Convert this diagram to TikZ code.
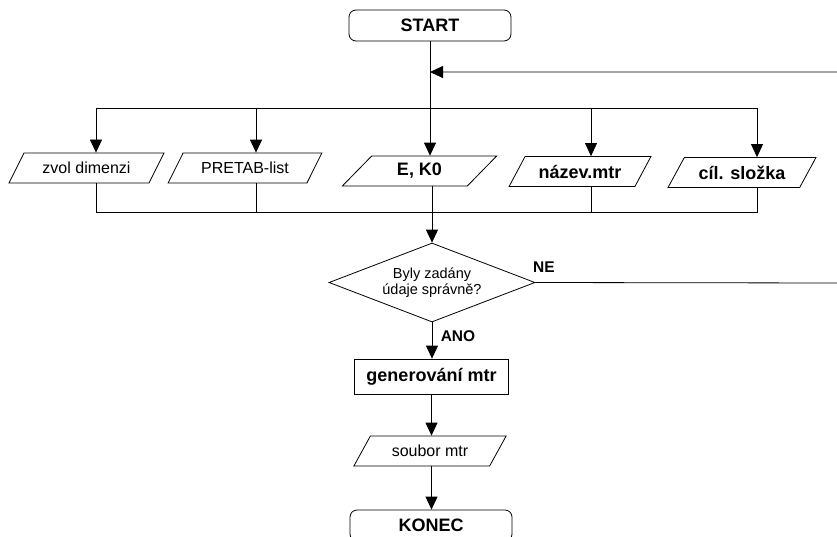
\documentclass[tikz,border=0pt]{standalone}
\usepackage{fontspec}
\setmainfont{Liberation Sans}
\usetikzlibrary{shapes.geometric,arrows.meta}
\begin{document}
\begin{tikzpicture}[x=1pt,y=-1pt,line width=0.8pt,
  arr/.style={-{Triangle[length=13pt,width=12pt]}},
  term/.style={draw,rounded corners=7pt,minimum width=162pt,minimum height=31pt,inner sep=0pt,font=\fontsize{18}{20}\selectfont\bfseries},
  io/.style={draw,trapezium,trapezium left angle=48,trapezium right angle=132,trapezium stretches=true,minimum height=30pt,inner sep=0pt},
  ionorm/.style={io,font=\fontsize{16}{19}\selectfont},
  iobold/.style={io,font=\fontsize{18}{20}\selectfont\bfseries},
  procbox/.style={draw,minimum width=154pt,minimum height=35pt,inner sep=0pt,font=\fontsize{18}{20}\selectfont\bfseries},
  decision/.style={draw,diamond,aspect=2.6,minimum width=206pt,minimum height=79pt,inner sep=0pt,align=center,font=\fontsize{14.5}{16}\selectfont},
  lbl/.style={inner sep=0pt,font=\fontsize{15.5}{17}\selectfont\bfseries}]
\useasboundingbox (0,0) rectangle (837,536);
\fill[white] (0,0) rectangle (837,536);

\node[term] (start) at (430,25.5) {START};

\coordinate (j) at (430,72);
\coordinate (rt) at (845,72);
\coordinate (rb) at (845,283);

\coordinate (t1) at (96,108);
\coordinate (t2) at (256,108);
\coordinate (t3) at (430,108);
\coordinate (t4) at (591,108);
\coordinate (t5) at (757,108);

\coordinate (b1) at (96,212);
\coordinate (b2) at (256,212);
\coordinate (b3) at (432,212);
\coordinate (b4) at (591,212);
\coordinate (b5) at (757,212);

\node[ionorm,minimum width=155pt] (p1) at (86.5,168) {zvol dimenzi};
\node[ionorm,minimum width=154pt] (p2) at (245,168) {PRETAB-list};
\node[iobold,minimum width=155pt] (p3) at (419.5,171) {E, K0};
\node[iobold,minimum width=142pt] (p4) at (580,171.5) {název.mtr};
\node[iobold,minimum width=148pt] (p5) at (742,172.5) {cíl. složka};

\node[decision] (d) at (432,282.5) {Byly zadány\\údaje správně?};
\node[lbl] (ne) at (544,267) {NE};
\node[lbl] (ano) at (458,336) {ANO};

\node[procbox] (gen) at (431.5,376.5) {generování mtr};
\node[ionorm,minimum width=153pt] (so) at (430,451) {soubor mtr};
\node[term] (ko) at (431,525.5) {KONEC};

% top distribution
\draw[arr] (start.south) -- (start.south |- p3.north);
\draw (t1) -- (t5);
\draw[arr] (t1) -- (t1 |- p1.north);
\draw[arr] (t2) -- (t2 |- p2.north);
\draw[arr] (t4) -- (t4 |- p4.north);
\draw[arr] (t5) -- (t5 |- p5.north);

% bottom collection
\draw (p1.south -| b1) -- (b1) -- (b5) -- (p5.south -| b5);
\draw (p2.south -| b2) -- (b2);
\draw (p4.south -| b4) -- (b4);
\draw[arr] (p3.south -| b3) -- (d.north);

% loop back
\draw[arr] (d.east) -- (rb) -- (rt) -- (j);

% lower chain
\draw[arr] (d.south) -- (d.south |- gen.north);
\draw[arr] (gen.south) -- (gen.south |- so.north);
\draw[arr] (so.south -| gen.south) -- (gen.south |- ko.north);
\end{tikzpicture}
\end{document}
